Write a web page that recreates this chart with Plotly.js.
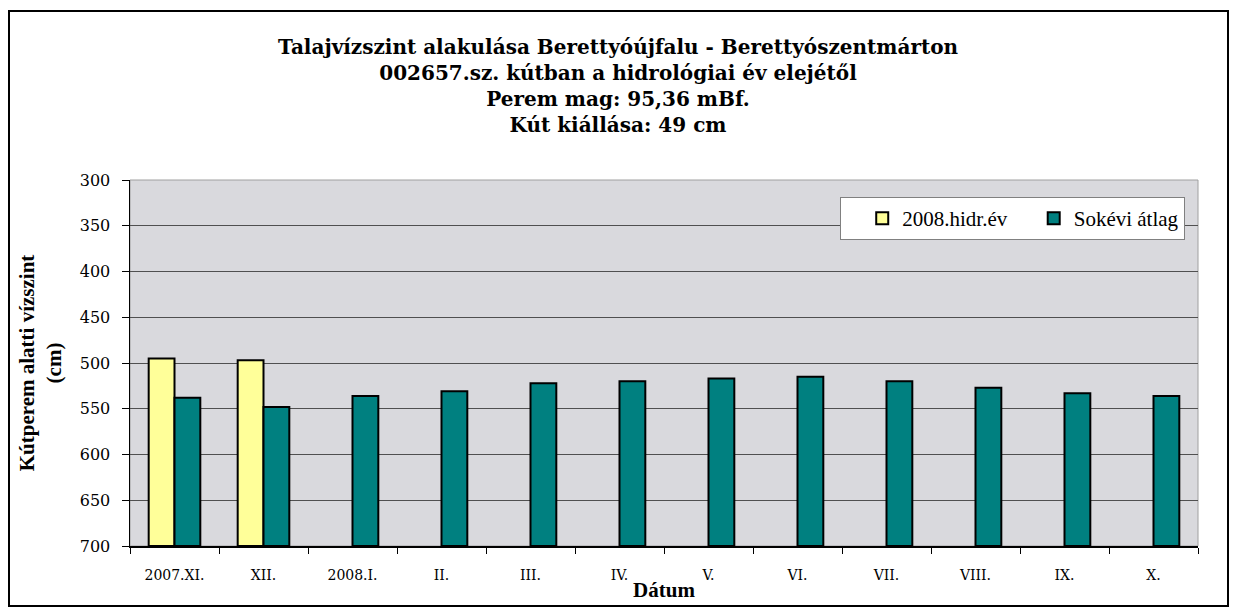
<!DOCTYPE html>
<html>
<head>
<meta charset="utf-8">
<script src="https://cdn.plot.ly/plotly-3.0.1.min.js"></script>
<style>
  html, body { margin: 0; padding: 0; background: #ffffff; }
  #wrap { position: relative; width: 1236px; height: 612px; }
  #chart { width: 1236px; height: 612px; }
  #frame { position: absolute; left: 8px; top: 10px; width: 1221px; height: 597px;
           border: 2px solid #000; pointer-events: none; box-sizing: border-box; }
</style>
</head>
<body>
<div id="wrap">
  <div id="chart"></div>
  <div id="frame"></div>
</div>
<script>
const categories = ["2007.XI.", "XII.", "2008.I.", "II.", "III.", "IV.", "V.", "VI.", "VII.", "VIII.", "IX.", "X."];
const hidrEv2008 = [495, 497, null, null, null, null, null, null, null, null, null, null];
const sokeviAtlag = [538, 548, 536, 531, 522, 520, 517, 515, 520, 527, 533, 536];
const yTickVals = [300, 350, 400, 450, 500, 550, 600, 650, 700];
const axisBase = 700;

const wide = "DejaVu Serif, serif";
const serif = "Liberation Serif, Times New Roman, serif";

function toLen(arr) { return arr.map(v => v === null ? null : v - axisBase); }

const traces = [
  {
    type: "bar", name: "2008.hidr.év", x: categories, y: toLen(hidrEv2008),
    base: categories.map(() => axisBase),
    marker: { color: "#ffff99", line: { color: "#000000", width: 2 } },
    hoverinfo: "skip"
  },
  {
    type: "bar", name: "Sokévi átlag", x: categories, y: toLen(sokeviAtlag),
    base: categories.map(() => axisBase),
    marker: { color: "#008080", line: { color: "#000000", width: 2 } },
    hoverinfo: "skip"
  }
];

const layout = {
  width: 1236, height: 612,
  margin: { l: 130, r: 38, t: 180, b: 66, autoexpand: false },
  paper_bgcolor: "#ffffff",
  plot_bgcolor: "#d9d9dd",
  barmode: "group",
  bargap: 0.42,
  bargroupgap: 0,
  showlegend: true,
  title: {
    text: "Talajvízszint alakulása Berettyóújfalu - Berettyószentmárton<br>002657.sz. kútban a hidrológiai év elejétől<br>Perem mag: 95,36 mBf.<br>Kút kiállása: 49 cm",
    font: { family: wide, size: 20, color: "#000", weight: "bold" },
    x: 0.5, xanchor: "center", xref: "container",
    y: 0.912, yanchor: "top", yref: "container"
  },
  legend: {
    orientation: "h",
    x: 0.665, xanchor: "left", y: 0.9536, yanchor: "top",
    bgcolor: "#ffffff", bordercolor: "#808080", borderwidth: 1,
    font: { family: serif, size: 21, color: "#000" },
    indentation: 21,
    traceorder: "normal"
  },
  xaxis: {
    type: "category",
    tickson: "boundaries",
    ticks: "outside", ticklen: 6, tickcolor: "#000", tickwidth: 1,
    showline: true, linecolor: "#000", linewidth: 1.5,
    showgrid: false,
    ticklabelstandoff: 16,
    tickfont: { family: wide, size: 14, color: "#000" },
    title: { text: "Dátum", font: { family: serif, size: 21, color: "#000", weight: "bold" }, standoff: 0 },
    fixedrange: true
  },
  yaxis: {
    range: [700, 300],
    tickvals: yTickVals,
    ticktext: yTickVals.map(String),
    ticks: "outside", ticklen: 7, tickcolor: "#000", tickwidth: 1,
    showline: true, linecolor: "#000", linewidth: 1.5,
    showgrid: true, gridcolor: "#505050", gridwidth: 1,
    zeroline: false,
    ticklabelstandoff: 8,
    tickfont: { family: wide, size: 16, color: "#000" },
    title: { text: "Kútperem alatti vízszint<br>(cm)", font: { family: serif, size: 21, color: "#000", weight: "bold" }, standoff: 12 },
    fixedrange: true
  },
  shapes: [
    { type: "rect", xref: "paper", yref: "paper", x0: 0, x1: 1, y0: 0, y1: 1,
      line: { color: "#a0a0a0", width: 1 }, layer: "below" }
  ]
};

Plotly.newPlot("chart", traces, layout, { displayModeBar: false, staticPlot: true });
</script>
</body>
</html>
